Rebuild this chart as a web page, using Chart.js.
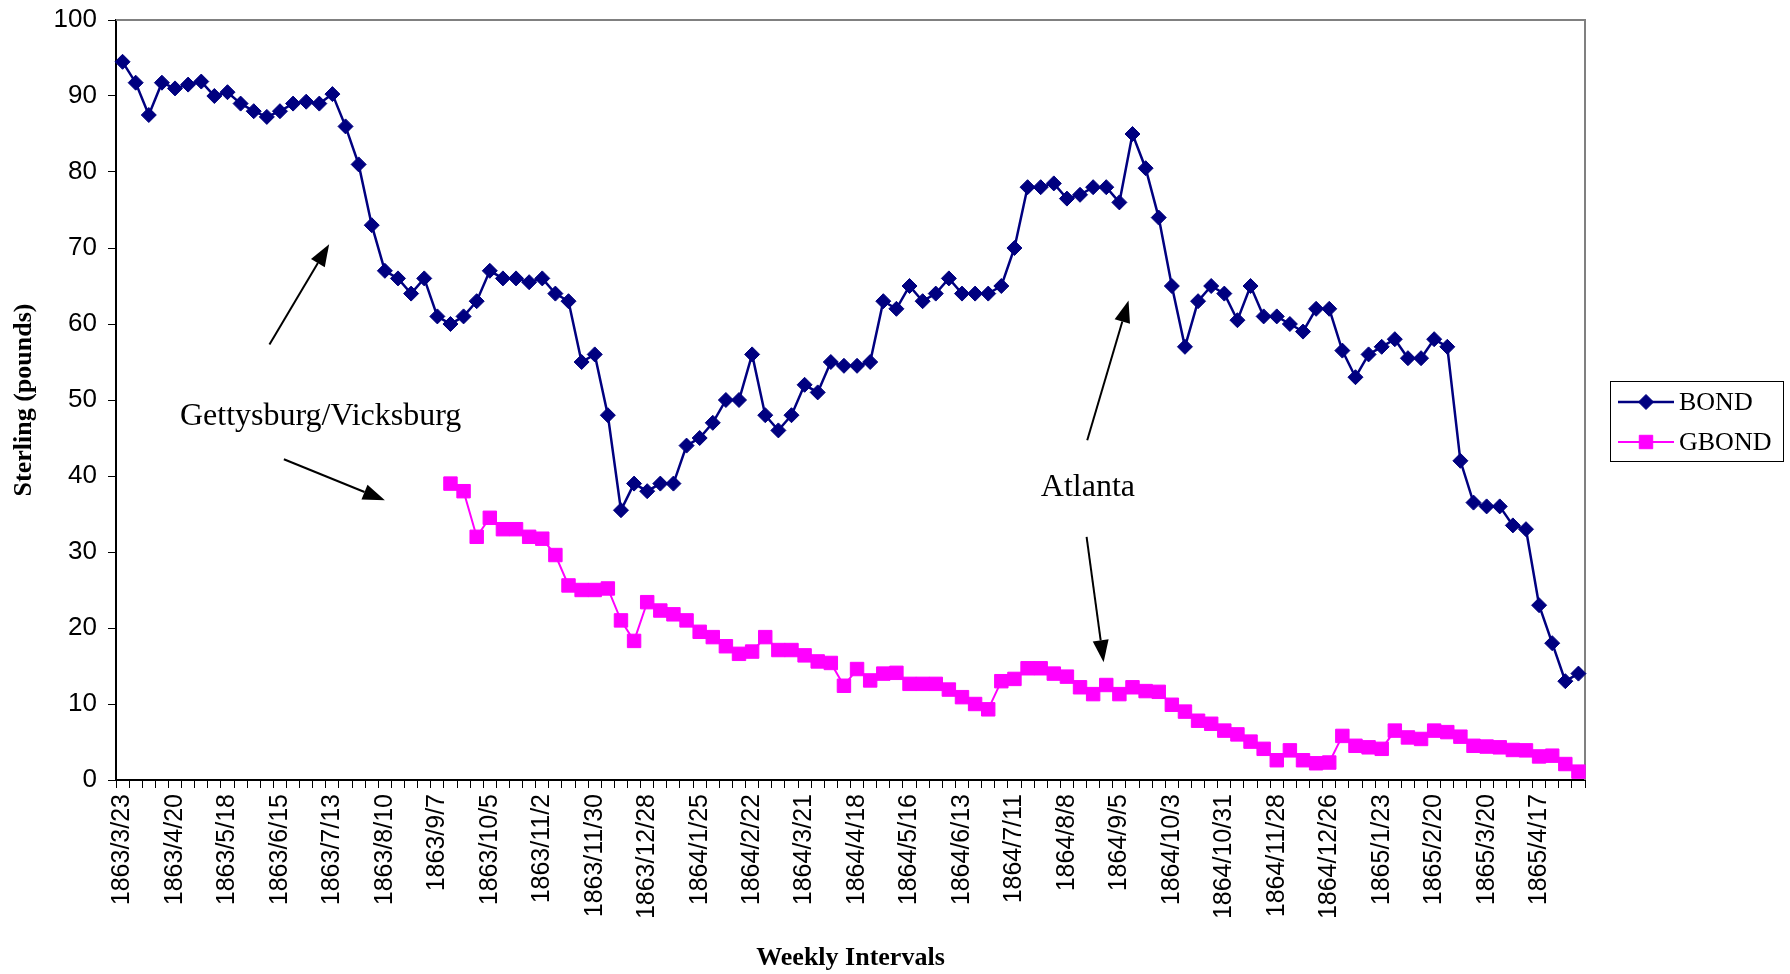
<!DOCTYPE html>
<html>
<head>
<meta charset="utf-8">
<script src="https://cdn.jsdelivr.net/npm/chart.js@4.4.1/dist/chart.umd.min.js"></script>
<style>
  html, body { margin: 0; padding: 0; background: #fff; }
  #wrap { width: 1790px; height: 974px; }
</style>
</head>
<body>
<div id="wrap"><canvas id="bondChart" width="1790" height="974"></canvas></div>
<script>
// --- Data (weekly quotes) ---
const weeks = [
  '1863/3/23','1863/3/30','1863/4/6','1863/4/13','1863/4/20','1863/4/27','1863/5/4','1863/5/11',
  '1863/5/18','1863/5/25','1863/6/1','1863/6/8','1863/6/15','1863/6/22','1863/6/29','1863/7/6',
  '1863/7/13','1863/7/20','1863/7/27','1863/8/3','1863/8/10','1863/8/17','1863/8/24','1863/8/31',
  '1863/9/7','1863/9/14','1863/9/21','1863/9/28','1863/10/5','1863/10/12','1863/10/19','1863/10/26',
  '1863/11/2','1863/11/9','1863/11/16','1863/11/23','1863/11/30','1863/12/7','1863/12/14','1863/12/21',
  '1863/12/28','1864/1/4','1864/1/11','1864/1/18','1864/1/25','1864/2/1','1864/2/8','1864/2/15',
  '1864/2/22','1864/2/29','1864/3/7','1864/3/14','1864/3/21','1864/3/28','1864/4/4','1864/4/11',
  '1864/4/18','1864/4/25','1864/5/2','1864/5/9','1864/5/16','1864/5/23','1864/5/30','1864/6/6',
  '1864/6/13','1864/6/20','1864/6/27','1864/7/4','1864/7/11','1864/7/18','1864/7/25','1864/8/1',
  '1864/8/8','1864/8/15','1864/8/22','1864/8/29','1864/9/5','1864/9/12','1864/9/19','1864/9/26',
  '1864/10/3','1864/10/10','1864/10/17','1864/10/24','1864/10/31','1864/11/7','1864/11/14','1864/11/21',
  '1864/11/28','1864/12/5','1864/12/12','1864/12/19','1864/12/26','1865/1/2','1865/1/9','1865/1/16',
  '1865/1/23','1865/1/30','1865/2/6','1865/2/13','1865/2/20','1865/2/27','1865/3/6','1865/3/13',
  '1865/3/20','1865/3/27','1865/4/3','1865/4/10','1865/4/17','1865/4/24','1865/5/1','1865/5/8'
];

const bond = [
  94.5, 91.75, 87.5, 91.75, 91, 91.5, 91.9, 90, 90.5, 89, 88, 87.25, 88, 89, 89.25, 89,
  90.25, 86, 81, 73, 67, 66, 64, 66, 61, 60, 61, 63, 67, 66, 66, 65.5,
  66, 64, 63, 55, 56, 48, 35.5, 39, 38, 39, 39, 44, 45, 47, 50, 50,
  56, 48, 46, 48, 52, 51, 55, 54.5, 54.5, 55, 63, 62, 65, 63, 64, 66,
  64, 64, 64, 65, 70, 78, 78, 78.5, 76.5, 77, 78, 78, 76, 85, 80.5, 74,
  65, 57, 63, 65, 64, 60.5, 65, 61, 61, 60, 59, 62, 62, 56.5, 53, 56,
  57, 58, 55.5, 55.5, 58, 57, 42, 36.5, 36, 36, 33.5, 33, 23, 18, 13, 14
];

const gbond = [
  null, null, null, null, null, null, null, null, null, null, null, null, null, null, null, null,
  null, null, null, null, null, null, null, null, null, 39, 38, 32, 34.5, 33, 33, 32,
  31.75, 29.6, 25.6, 25, 25, 25.2, 21, 18.3, 23.4, 22.3, 21.8, 21, 19.5, 18.8, 17.6, 16.6,
  16.9, 18.8, 17.1, 17.1, 16.4, 15.6, 15.4, 12.4, 14.6, 13.1, 14, 14.1, 12.65, 12.65, 12.65, 11.9,
  10.9, 10, 9.3, 13, 13.3, 14.7, 14.7, 14, 13.6, 12.2, 11.3, 12.5, 11.3, 12.2, 11.7, 11.6,
  9.9, 9, 7.8, 7.4, 6.5, 6, 5.05, 4.1, 2.6, 3.9, 2.6, 2.2, 2.3, 5.8, 4.5, 4.3,
  4.1, 6.5, 5.6, 5.4, 6.5, 6.3, 5.7, 4.5, 4.4, 4.3, 3.95, 3.9, 3.1, 3.2, 2.1, 1.1
];

const yTicks = [0, 10, 20, 30, 40, 50, 60, 70, 80, 90, 100];
const labelEvery = 4;

// annotations in data units: [category index, value]
const notes = [
  { text: 'Gettysburg/Vicksburg', at: [15.1, 47.85] },
  { text: 'Atlanta', at: [73.6, 38.5] }
];
const arrows = [
  { from: [11.2, 57.3], to: [15.75, 70.5] },
  { from: [12.3, 42.2], to: [20.0, 36.8] },
  { from: [73.55, 44.7], to: [76.7, 63.1] },
  { from: [73.5, 32.0], to: [74.8, 15.5] }
];

const navy = '#000080';
const magenta = '#FF00FF';
const sans = '"Liberation Sans", Arial, sans-serif';
const serif = '"Liberation Serif", "Times New Roman", serif';

// --- Plugins: white page, plot frame, annotations, legend box ---
const pagePlugin = {
  id: 'page',
  beforeDraw(chart) {
    const ctx = chart.ctx;
    ctx.save();
    ctx.fillStyle = '#fff';
    ctx.fillRect(0, 0, chart.width, chart.height);
    ctx.restore();
  },
  beforeDatasetsDraw(chart) {
    const { ctx, chartArea: a } = chart;
    ctx.save();
    ctx.strokeStyle = '#808080';
    ctx.lineWidth = 2;
    ctx.beginPath();
    ctx.moveTo(a.left, a.top);
    ctx.lineTo(a.right, a.top);
    ctx.lineTo(a.right, a.bottom);
    ctx.stroke();
    ctx.restore();
  }
};

function drawArrow(ctx, x1, y1, x2, y2) {
  const ang = Math.atan2(y2 - y1, x2 - x1);
  const len = 22, half = 8;
  const bx = x2 - len * Math.cos(ang), by = y2 - len * Math.sin(ang);
  ctx.beginPath();
  ctx.moveTo(x1, y1);
  ctx.lineTo(bx, by);
  ctx.stroke();
  ctx.beginPath();
  ctx.moveTo(x2, y2);
  ctx.lineTo(bx + half * Math.sin(ang), by - half * Math.cos(ang));
  ctx.lineTo(bx - half * Math.sin(ang), by + half * Math.cos(ang));
  ctx.closePath();
  ctx.fill();
}

const notesPlugin = {
  id: 'notes',
  afterDatasetsDraw(chart) {
    const { ctx, scales: { x, y } } = chart;
    ctx.save();
    ctx.fillStyle = '#000';
    ctx.strokeStyle = '#000';
    ctx.lineWidth = 2;
    ctx.font = '32px ' + serif;
    ctx.textAlign = 'center';
    ctx.textBaseline = 'middle';
    notes.forEach(n => {
      ctx.fillText(n.text, x.getPixelForValue(n.at[0]), y.getPixelForValue(n.at[1]));
    });
    arrows.forEach(a => {
      drawArrow(ctx,
        x.getPixelForValue(a.from[0]), y.getPixelForValue(a.from[1]),
        x.getPixelForValue(a.to[0]), y.getPixelForValue(a.to[1]));
    });
    ctx.restore();
  }
};

const legendPlugin = {
  id: 'boxLegend',
  afterDraw(chart) {
    const { ctx, chartArea: a } = chart;
    const left = a.right + 25, top = 381, w = 173, h = 80;
    ctx.save();
    ctx.strokeStyle = '#000';
    ctx.lineWidth = 1;
    ctx.strokeRect(left + 0.5, top + 0.5, w, h);
    ctx.font = '26px ' + serif;
    ctx.textBaseline = 'middle';
    ctx.textAlign = 'left';
    chart.data.datasets.forEach((ds, i) => {
      const cy = top + 21 + i * 40;
      ctx.strokeStyle = ds.borderColor;
      ctx.lineWidth = ds.borderWidth;
      ctx.beginPath();
      ctx.moveTo(left + 8, cy);
      ctx.lineTo(left + 64, cy);
      ctx.stroke();
      // marker
      ctx.fillStyle = ds.pointBackgroundColor;
      ctx.strokeStyle = ds.pointBorderColor;
      ctx.lineWidth = 1;
      Chart.helpers.drawPoint(ctx, {
        pointStyle: ds.pointStyle,
        radius: ds.pointRadius,
        rotation: 0,
        borderWidth: 1
      }, left + 36, cy);
      ctx.fillStyle = '#000';
      ctx.fillText(ds.label, left + 69, cy + 1);
    });
    ctx.restore();
  }
};

new Chart(document.getElementById('bondChart'), {
  type: 'line',
  data: {
    labels: weeks,
    datasets: [
      {
        label: 'BOND',
        data: bond,
        borderColor: navy,
        backgroundColor: navy,
        borderWidth: 2.5,
        pointStyle: 'rectRot',
        pointRadius: 7.5,
        pointBackgroundColor: navy,
        pointBorderColor: navy,
        pointBorderWidth: 1,
        tension: 0,
        clip: false
      },
      {
        label: 'GBOND',
        data: gbond,
        borderColor: magenta,
        backgroundColor: magenta,
        borderWidth: 2,
        pointStyle: 'rect',
        pointRadius: 9.5,
        pointBackgroundColor: magenta,
        pointBorderColor: magenta,
        pointBorderWidth: 1,
        tension: 0,
        clip: false
      }
    ]
  },
  options: {
    responsive: false,
    animation: false,
    devicePixelRatio: 1,
    layout: { padding: { left: 0, top: 20, right: 205, bottom: 0 } },
    plugins: {
      legend: { display: false },
      tooltip: { enabled: false }
    },
    scales: {
      x: {
        type: 'category',
        offset: true,
        afterFit(scale) { scale.height = 194; },
        grid: {
          offset: true,
          drawOnChartArea: false,
          drawTicks: true,
          tickLength: 8,
          color: '#000',
          lineWidth: 1
        },
        border: { color: '#000', width: 2 },
        ticks: {
          autoSkip: false,
          maxRotation: 90,
          minRotation: 90,
          padding: 6,
          color: '#000',
          font: { family: sans, size: 25 },
          callback: (v, i) => (i % labelEvery === 0 ? weeks[i] : '')
        },
        title: {
          display: true,
          text: 'Weekly Intervals',
          color: '#000',
          font: { family: serif, size: 26, weight: 'bold' },
          padding: { top: 0, bottom: 0 }
        }
      },
      y: {
        min: yTicks[0],
        max: yTicks[yTicks.length - 1],
        afterFit(scale) {
          scale.width = 116;
          scale.paddingTop = 0;
          scale.paddingBottom = 0;
        },
        afterBuildTicks(scale) { scale.ticks = yTicks.map(v => ({ value: v })); },
        grid: {
          drawOnChartArea: false,
          drawTicks: true,
          tickLength: 8,
          color: '#000',
          lineWidth: 1
        },
        border: { color: '#000', width: 2 },
        ticks: {
          padding: 11,
          color: '#000',
          font: { family: sans, size: 26 }
        },
        title: {
          display: true,
          text: 'Sterling (pounds)',
          color: '#000',
          font: { family: serif, size: 26, weight: 'bold' },
          padding: { top: 9, bottom: 0 }
        }
      }
    }
  },
  plugins: [pagePlugin, notesPlugin, legendPlugin]
});
</script>
</body>
</html>
